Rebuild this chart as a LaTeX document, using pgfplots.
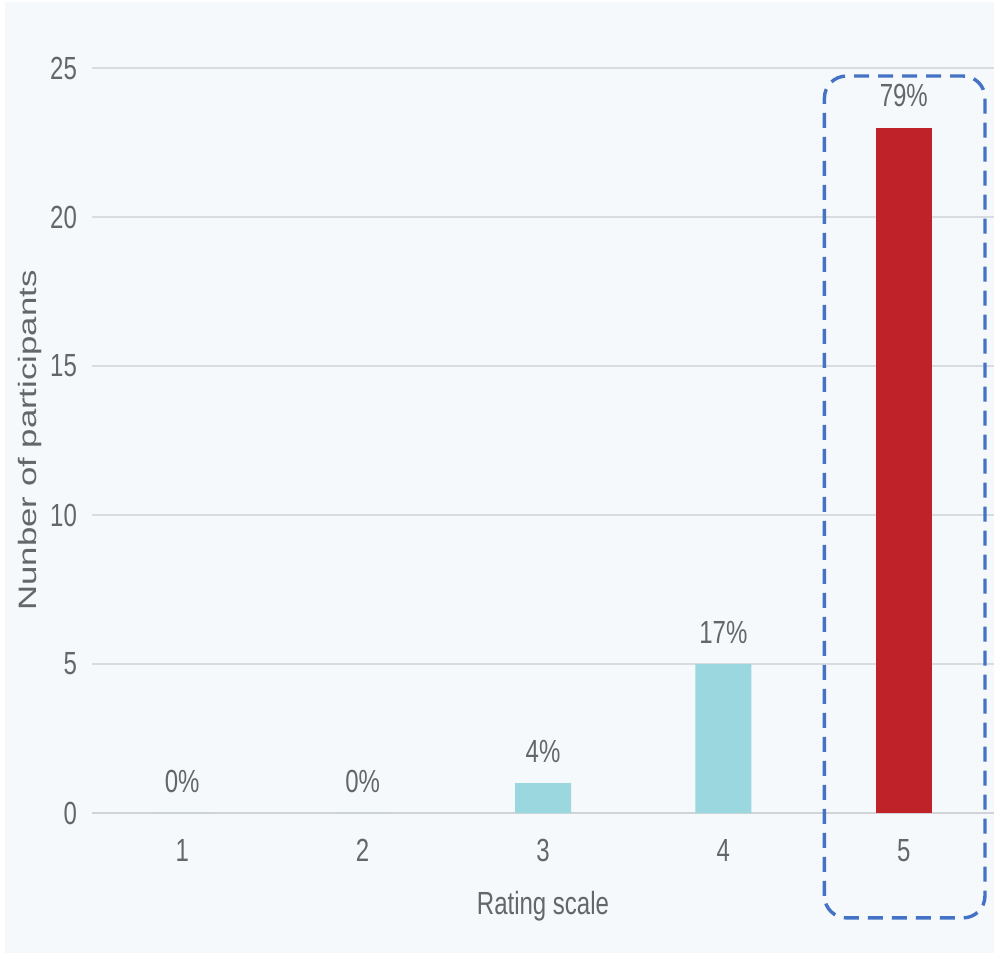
\documentclass[border=0pt]{standalone}
\usepackage{pgfplots}
\pgfplotsset{compat=1.18}
\usepackage{fontspec}
\setmainfont{Liberation Sans}[FakeStretch=0.75]
\newfontfamily\widefont{Liberation Sans}[FakeStretch=1.38]
\definecolor{bg}{HTML}{F5F9FC}
\definecolor{tickc}{HTML}{63676B}
\definecolor{gridc}{HTML}{D8DCE0}
\definecolor{zeroc}{HTML}{D0D4D8}
\definecolor{cyanc}{HTML}{9BD7DF}
\definecolor{redc}{HTML}{C0222A}
\definecolor{boxc}{HTML}{4472C4}
\begin{document}
\begin{tikzpicture}
\useasboundingbox (-46pt,-70pt) rectangle (451pt,406.5pt);
\fill[white] (-46pt,-70pt) rectangle (451pt,406.5pt);
\fill[bg] (-43.5pt,-70pt) rectangle (451pt,405.5pt);
\begin{axis}[
  at={(0,0)}, anchor=south west,
  scale only axis, width=451pt, height=372.5pt,
  xmin=0.5, xmax=5.5, ymin=0, ymax=25,
  ytick={0,5,...,25}, xtick={1,2,3,4,5},
  /pgf/number format/assume math mode=true,
  axis line style={draw=none},
  major tick length=0pt,
  ymajorgrids, grid style={gridc, line width=0.9pt},
  tick label style={font=\fontsize{16}{18}\selectfont, text=tickc},
  yticklabel style={xshift=-4pt},
  xticklabel style={yshift=-9.5pt},
  xlabel={Rating scale},
  xlabel style={at={(axis description cs:0.5,0)}, anchor=base, yshift=-50.5pt, inner sep=0pt, font=\fontsize{16}{18}\selectfont, text=tickc},
  ylabel={Nunber of participants},
  ylabel style={at={(axis description cs:-0.0687,0.5)}, anchor=center, font=\widefont\fontsize{12.6}{15}\selectfont, text=tickc},
  clip=false,
  ybar, bar width=28pt, bar shift=0pt,
  point meta=explicit symbolic,
  nodes near coords,
  nodes near coords style={anchor=base, yshift=10.5pt, inner sep=0pt, font=\fontsize{16}{18}\selectfont, text=tickc},
]
\draw[zeroc, line width=1.3pt] (axis cs:0.5,0) -- (axis cs:5.5,0);
\addplot[fill=cyanc, draw=none] coordinates {(1,0) [0\%] (2,0) [0\%] (3,1) [4\%] (4,5) [17\%]};
\addplot[fill=redc, draw=none] coordinates {(5,23) [79\%]};
\draw[boxc, line width=1.7pt, dash pattern=on 7.5pt off 4.5pt, rounded corners=11pt] (axis cs:4.56,-3.52) rectangle (axis cs:5.45,24.73);
\end{axis}
\end{tikzpicture}
\end{document}
